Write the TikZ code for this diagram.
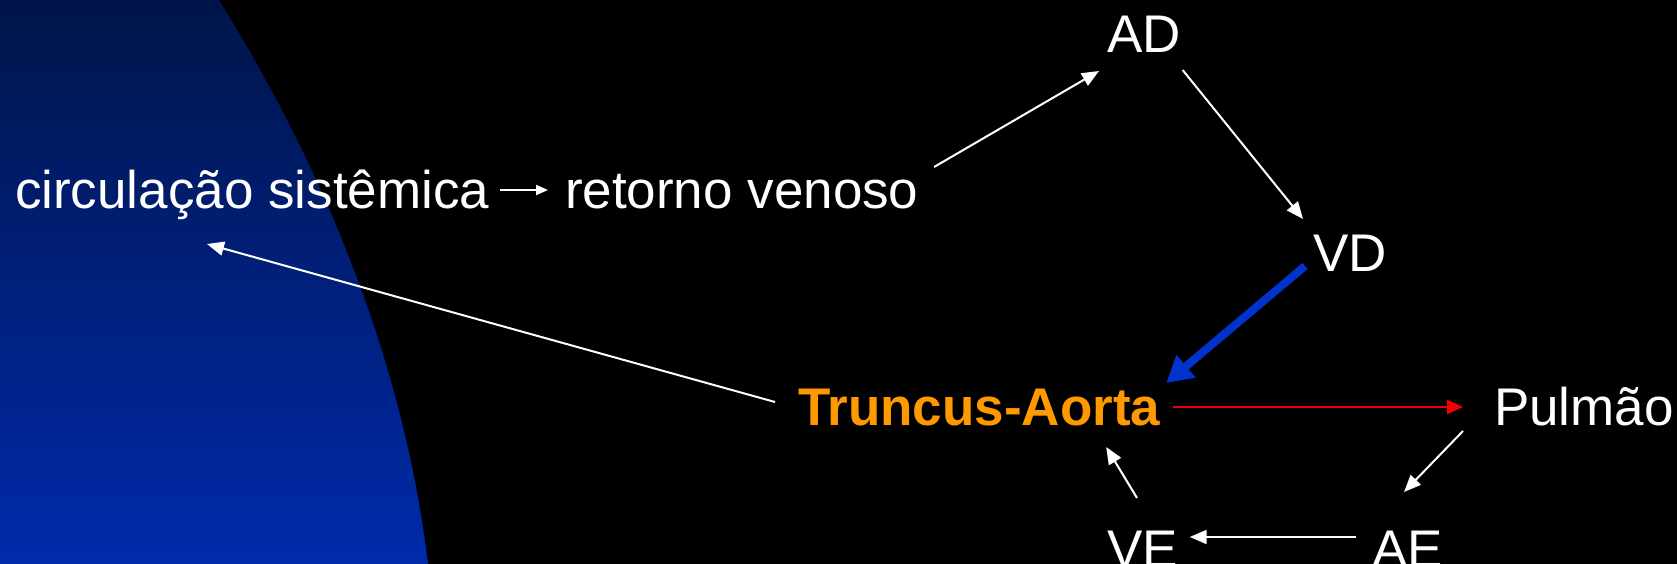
\documentclass[tikz,border=0pt]{standalone}
\usepackage{fontspec}
\setmainfont{Liberation Sans}
\usetikzlibrary{arrows.meta}
\definecolor{orng}{HTML}{FF9900}
\definecolor{bluearr}{HTML}{0033CC}
\definecolor{redarr}{HTML}{F00000}
\definecolor{bgtop}{HTML}{00154A}
\definecolor{bgbot}{HTML}{002AAA}
\begin{document}
\begin{tikzpicture}[x=1pt,y=-1pt,
  lbl/.style={text=white,inner sep=0pt,outer sep=0pt,anchor=base west,font=\fontsize{53}{64}\selectfont},
  conn/.style={draw=white,line width=2pt,-{Triangle[length=17pt,width=14pt]}},
  smallconn/.style={draw=white,line width=2pt,-{Triangle[length=12pt,width=10pt]}},
  blueconn/.style={draw=bluearr,line width=8pt,-{Triangle[length=26pt,width=28pt]}},
  redconn/.style={draw=redarr,line width=2.5pt,-{Triangle[length=16pt,width=14pt]}}]
\useasboundingbox (0,0) rectangle (1677,564);
\fill[black] (0,0) rectangle (1677,564);
\shade[top color=bgtop,bottom color=bgbot] (0,0) -- (219,0) .. controls (300,130) and (400,330) .. (428,564) -- (0,564) -- cycle;
% nodes
\node[lbl] (circ) at (15,208) {circulação sistêmica};
\node[lbl] (ret) at (565,208) {retorno venoso};
\node[lbl] (ad) at (1107,53) {AD};
\node[lbl] (vd) at (1313,271) {VD};
\node[lbl,text=orng,font=\fontsize{53}{64}\selectfont\bfseries] (tr) at (798,425) {Truncus-Aorta};
\node[lbl] (pu) at (1494,425) {Pulmão};
\node[lbl] (ve) at (1107,567) {VE};
\node[lbl] (ae) at (1372,567) {AE};
% connectors
\draw[smallconn] ([shift={(11,-18)}]circ.base east) -- ([shift={(-17,-18)}]ret.base west);
\draw[conn] ([shift={(15.5,-41)}]ret.base east) -- ([shift={(-8,18)}]ad.base west);
\draw[conn] ([shift={(2,17)}]ad.base east) -- ([shift={(-10,-52)}]vd.base west);
\draw[blueconn] ([shift={(-8,-5)}]vd.base west) -- ([shift={(6,-42)}]tr.base east);
\draw[redconn] ([shift={(13,-18)}]tr.base east) -- ([shift={(-31,-18)}]pu.base west);
\draw[conn] ([shift={(-31,6)}]pu.base west) -- ([shift={(32,-75)}]ae.base west);
\draw[conn] ([shift={(-16,-30)}]ae.base west) -- ([shift={(12,-30)}]ve.base east);
\draw[conn] ([shift={(30,-69)}]ve.base west) -- ([shift={(-54,22)}]tr.base east);
\draw[conn] ([shift={(-23,-23)}]tr.base west) -- ([shift={(192,36)}]circ.base west);
\end{tikzpicture}
\end{document}
